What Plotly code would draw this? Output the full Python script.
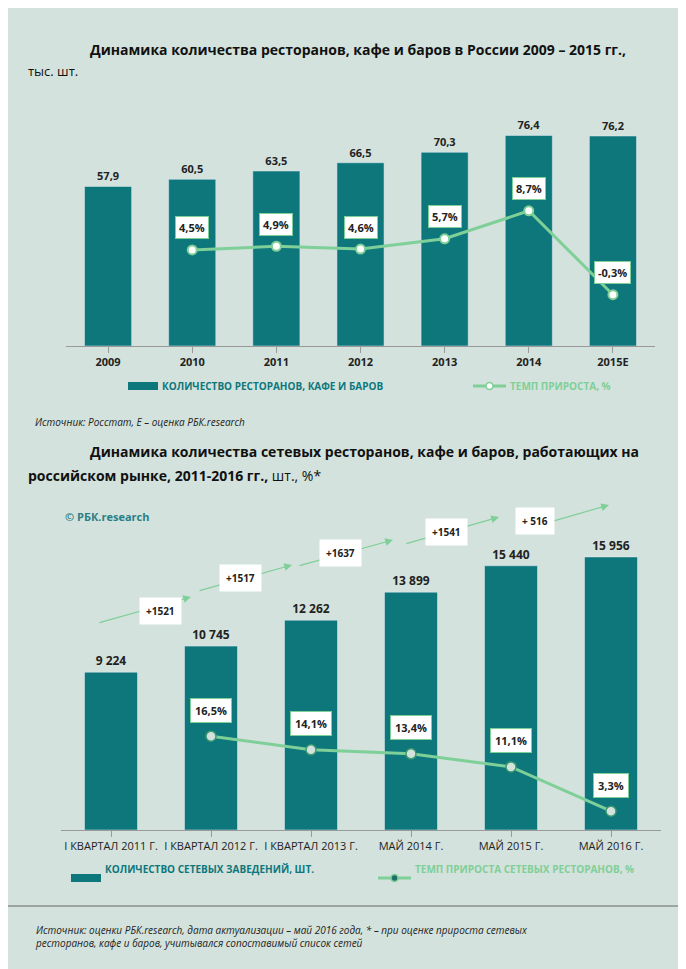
import plotly.graph_objects as go

years = ["2009", "2010", "2011", "2012", "2013", "2014", "2015E"]
count = [57.9, 60.5, 63.5, 66.5, 70.3, 76.4, 76.2]
growth = [None, 4.5, 4.9, 4.6, 5.7, 8.7, -0.3]

periods = ["I КВАРТАЛ 2011 Г.", "I КВАРТАЛ 2012 Г.", "I КВАРТАЛ 2013 Г.",
           "МАЙ 2014 Г.", "МАЙ 2015 Г.", "МАЙ 2016 Г."]
chains = [9224, 10745, 12262, 13899, 15440, 15956]
chain_growth = [None, 16.5, 14.1, 13.4, 11.1, 3.3]
increments = ["+1521", "+1517", "+1637", "+1541", "+ 516"]

# decorative arrow placement (pixels): start, end, label box centre
arrow_pos = [((90, 615), (183, 589), (131, 603)),
             ((190, 583), (284, 557), (233, 570)),
             ((290, 558), (385, 532), (332, 545)),
             ((397, 536), (491, 509), (438, 524)),
             ((507, 524), (601, 497), (547, 513))]

W, H = 686, 969
BG = "#d3e2dc"
BAR = "#0d777c"
LINE = "#7fcf98"
FONT = "Open Sans"


def px(x):
    return x / W


def py(y):
    return 1 - y / H


def comma(v):
    return f"{v:.1f}".replace(".", ",") + "%"


def space(v):
    return f"{v:,}".replace(",", " ")


fig = go.Figure()

fig.add_trace(go.Bar(x=years, y=count, marker_color=BAR, width=0.56,
                     text=[f"<b>{v:.1f}</b>".replace(".", ",") for v in count],
                     textposition="outside", textfont=dict(size=11, color="#222"),
                     cliponaxis=False, xaxis="x", yaxis="y", showlegend=False))
fig.add_trace(go.Scatter(x=years, y=growth, mode="lines+markers",
                         line=dict(color=LINE, width=3),
                         marker=dict(size=9, color="white", line=dict(color=LINE, width=2)),
                         xaxis="x", yaxis="y2", showlegend=False))

fig.add_trace(go.Bar(x=periods, y=chains, marker_color=BAR, width=0.53,
                     text=[f"<b>{space(v)}</b>" for v in chains],
                     textposition="outside", textfont=dict(size=12, color="#222"),
                     cliponaxis=False, xaxis="x2", yaxis="y3", showlegend=False))
fig.add_trace(go.Scatter(x=periods, y=chain_growth, mode="lines+markers",
                         line=dict(color=LINE, width=3),
                         marker=dict(size=10, color=BG, line=dict(color="#3e9a70", width=1.5)),
                         xaxis="x2", yaxis="y4", showlegend=False))

ann = []
# category index positions (string years would be read as numbers)
for i, g in enumerate(growth):
    if g is not None:
        ann.append(dict(x=i, y=g, xref="x", yref="y2", text=f"<b>{comma(g)}</b>",
                        showarrow=False, yshift=22, bgcolor="white", bordercolor=LINE,
                        borderwidth=1, borderpad=3, font=dict(size=11, color="#222")))
for i, g in enumerate(chain_growth):
    if g is not None:
        ann.append(dict(x=i, y=g, xref="x2", yref="y4", text=f"<b>{comma(g)}</b>",
                        showarrow=False, yshift=26, bgcolor="white", bordercolor=LINE,
                        borderwidth=1, borderpad=4, font=dict(size=11, color="#222")))

for t, ((x0, y0), (x1, y1), (bx, by)) in zip(increments, arrow_pos):
    ann.append(dict(x=px(x1), y=py(y1), ax=x0 - x1, ay=y0 - y1, xref="paper", yref="paper",
                    axref="pixel", ayref="pixel", showarrow=True, arrowhead=2, arrowsize=1.3,
                    arrowwidth=1.2, arrowcolor=LINE, text=""))
    ann.append(dict(x=px(bx), y=py(by), xref="paper", yref="paper",
                    text=f"<b>{t}</b>", showarrow=False, bgcolor="white", borderpad=6,
                    font=dict(size=10, color="#222")))

ann += [
    dict(x=px(80), y=py(30), xref="paper", yref="paper", xanchor="left", showarrow=False,
         text="<b>Динамика количества ресторанов, кафе и баров в России 2009 – 2015 гг.,</b>",
         font=dict(size=14, color="#111")),
    dict(x=px(18), y=py(52), xref="paper", yref="paper", xanchor="left", showarrow=False,
         text="тыс. шт.", font=dict(size=13, color="#111")),
    dict(x=px(152), y=py(378), xref="paper", yref="paper", xanchor="left", showarrow=False,
         text="<b>КОЛИЧЕСТВО РЕСТОРАНОВ, КАФЕ И БАРОВ</b>", font=dict(size=10, color=BAR)),
    dict(x=px(500), y=py(378), xref="paper", yref="paper", xanchor="left", showarrow=False,
         text="<b>ТЕМП ПРИРОСТА, %</b>", font=dict(size=10, color=LINE)),
    dict(x=px(25), y=py(414), xref="paper", yref="paper", xanchor="left", showarrow=False,
         text="<i>Источник: Росстат, Е – оценка РБК.research</i>", font=dict(size=10, color="#222")),
    dict(x=px(80), y=py(444), xref="paper", yref="paper", xanchor="left", showarrow=False,
         text="<b>Динамика количества сетевых ресторанов, кафе и баров, работающих на</b>",
         font=dict(size=14, color="#111")),
    dict(x=px(18), y=py(467), xref="paper", yref="paper", xanchor="left", showarrow=False,
         text="<b>российском рынке, 2011-2016 гг.,</b> шт., %*", font=dict(size=14, color="#111")),
    dict(x=px(55), y=py(508), xref="paper", yref="paper", xanchor="left", showarrow=False,
         text="<b>© РБК.research</b>", font=dict(size=11, color="#2a7f86")),
    dict(x=px(95), y=py(870), xref="paper", yref="paper", xanchor="left", showarrow=False,
         text="<b>КОЛИЧЕСТВО СЕТЕВЫХ ЗАВЕДЕНИЙ, ШТ.</b>", font=dict(size=10, color=BAR)),
    dict(x=px(405), y=py(870), xref="paper", yref="paper", xanchor="left", showarrow=False,
         text="<b>ТЕМП ПРИРОСТА СЕТЕВЫХ РЕСТОРАНОВ, %</b>", font=dict(size=10, color=LINE)),
    dict(x=px(25), y=py(928), xref="paper", yref="paper", xanchor="left", yanchor="middle",
         align="left", showarrow=False,
         text="<i>Источник: оценки РБК.research, дата актуализации – май 2016 года, * – при оценке прироста сетевых<br>ресторанов, кафе и баров, учитывался сопоставимый список сетей</i>",
         font=dict(size=10, color="#222")),
]

shapes = [
    dict(type="rect", xref="paper", yref="paper", x0=px(120), x1=px(150), y0=py(374), y1=py(382),
         fillcolor=BAR, line_width=0),
    dict(type="line", xref="paper", yref="paper", x0=px(465), x1=px(498), y0=py(378), y1=py(378),
         line=dict(color=LINE, width=3)),
    dict(type="circle", xref="paper", yref="paper", x0=px(478), x1=px(485), y0=py(374.5), y1=py(381.5),
         fillcolor="white", line=dict(color=LINE, width=1.5)),
    dict(type="rect", xref="paper", yref="paper", x0=px(63), x1=px(93), y0=py(866), y1=py(874),
         fillcolor=BAR, line_width=0),
    dict(type="line", xref="paper", yref="paper", x0=px(370), x1=px(403), y0=py(870), y1=py(870),
         line=dict(color=LINE, width=3)),
    dict(type="circle", xref="paper", yref="paper", x0=px(383), x1=px(390), y0=py(866.5), y1=py(873.5),
         fillcolor="#1e6e6a", line=dict(color=LINE, width=1.5)),
    dict(type="line", xref="paper", yref="paper", x0=0, x1=1, y0=py(898), y1=py(898),
         line=dict(color="#666", width=1)),
]

axis_x = dict(type="category", showgrid=False, showline=True, linecolor="#999",
              ticks="outside", ticklen=6, tickcolor="#999", tickfont=dict(size=11, color="#222"))

fig.update_layout(
    width=W, height=H, margin=dict(l=0, r=0, t=0, b=0),
    paper_bgcolor=BG, plot_bgcolor=BG, font=dict(family=FONT),
    annotations=ann, shapes=shapes,
    xaxis=dict(axis_x, domain=[px(58), px(647)], anchor="y", range=[-0.5, 6.5],
               categoryorder="array", categoryarray=years,
               tickprefix="<b>", ticksuffix="</b>"),
    yaxis=dict(domain=[py(338), py(90)], anchor="x", range=[0, 90], visible=False),
    yaxis2=dict(overlaying="y", anchor="x", side="right", range=[-5.8, 20.8], visible=False),
    xaxis2=dict(axis_x, domain=[px(53), px(653)], anchor="y3", range=[-0.5, 5.5]),
    yaxis3=dict(domain=[py(822), py(490)], anchor="x2", range=[0, 19400], visible=False),
    yaxis4=dict(overlaying="y3", anchor="x2", side="right", range=[0, 58.4], visible=False),
)

fig.write_html("out.html")
